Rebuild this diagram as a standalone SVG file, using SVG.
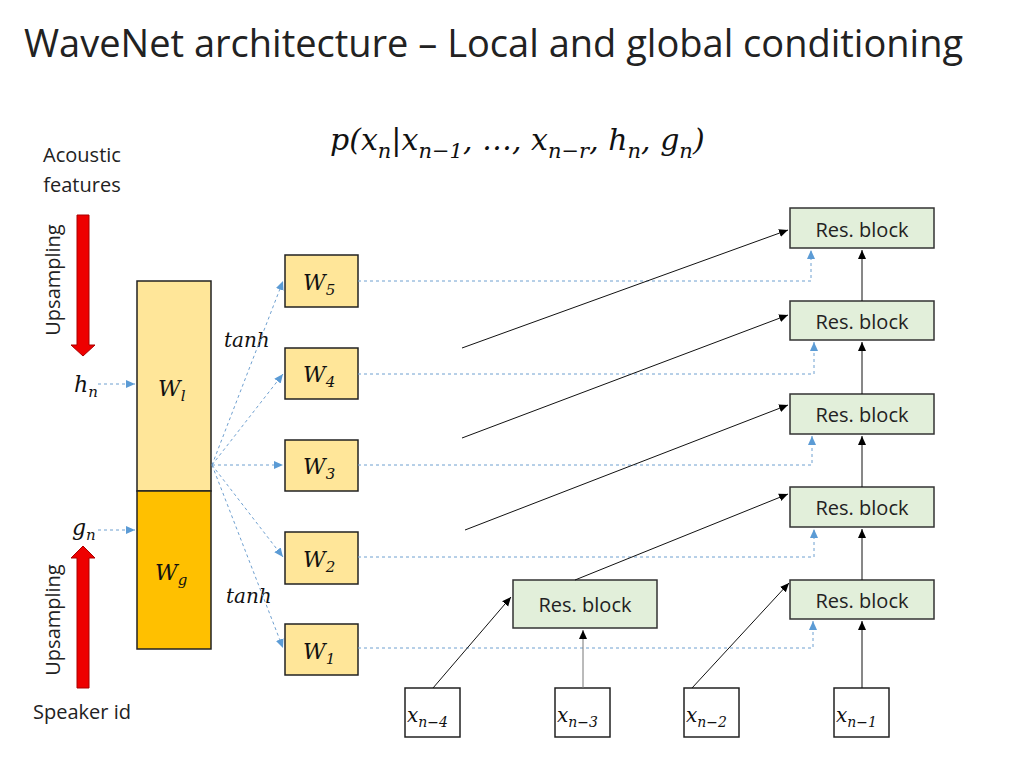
<svg xmlns="http://www.w3.org/2000/svg" width="1024" height="768" viewBox="0 0 1024 768">
<style>
.t{font-family:"Open Sans","Liberation Sans",sans-serif;fill:#222}
.m{font-family:"DejaVu Serif","Liberation Serif",serif;font-style:italic;fill:#111}
.w{fill:#ffe699;stroke:#222;stroke-width:1.5}
.r{fill:#e2efda;stroke:#333;stroke-width:1.5}
.x{fill:#fff;stroke:#222;stroke-width:1.5}
.d{stroke:#6fa0d0;stroke-width:1;stroke-dasharray:3,3;fill:none}
.k{stroke:#111;stroke-width:1;fill:none}
</style>
<defs>
<marker id="b" markerWidth="10" markerHeight="10" refX="9" refY="5" orient="auto" markerUnits="userSpaceOnUse"><path d="M0,1 L9,5 L0,9z" fill="#5b9bd5"/></marker>
<marker id="a" markerWidth="10" markerHeight="10" refX="9" refY="5" orient="auto" markerUnits="userSpaceOnUse"><path d="M0,1 L9,5 L0,9z" fill="#000"/></marker>
</defs>
<text class="t" x="24" y="57" font-size="38">WaveNet architecture – Local and global conditioning</text>
<text class="m" x="330" y="150" font-size="30">p(x<tspan font-size="21" dy="8">n</tspan><tspan dy="-8">|x</tspan><tspan font-size="21" dy="8">n−1</tspan><tspan dy="-8">, …, x</tspan><tspan font-size="21" dy="8">n−r</tspan><tspan dy="-8">, h</tspan><tspan font-size="21" dy="8">n</tspan><tspan dy="-8">, g</tspan><tspan font-size="21" dy="8">n</tspan><tspan dy="-8">)</tspan></text>
<text class="t" x="82" y="162" font-size="20" text-anchor="middle">Acoustic</text>
<text class="t" x="82" y="192" font-size="20" text-anchor="middle">features</text>
<text class="t" x="82" y="719" font-size="20" text-anchor="middle">Speaker id</text>
<text class="t" font-size="20" text-anchor="middle" transform="translate(60,280) rotate(-90)">Upsampling</text>
<text class="t" font-size="20" text-anchor="middle" transform="translate(60,620) rotate(-90)">Upsampling</text>
<path d="M77,215 H89 V345 H95 L83,356 L71,345 H77z" fill="#e00" stroke="#a00"/>
<path d="M77,688 H89 V558 H95 L83,546 L71,558 H77z" fill="#e00" stroke="#a00"/>
<text class="m" x="74" y="392" font-size="22">h<tspan font-size="15" dy="5">n</tspan></text>
<text class="m" x="72" y="535" font-size="22">g<tspan font-size="15" dy="5">n</tspan></text>
<g id="Wl"><rect class="w" x="137" y="281" width="74" height="210"/><text class="m" x="158" y="396" font-size="22">W<tspan font-size="15" dy="5">l</tspan></text></g>
<g id="Wg"><rect x="137" y="491" width="74" height="158" fill="#ffc000" stroke="#222" stroke-width="1.5"/><text class="m" x="155" y="580" font-size="22">W<tspan font-size="15" dy="5">g</tspan></text></g>
<text class="m" x="224" y="347" font-size="20">tanh</text>
<text class="m" x="226" y="603" font-size="20">tanh</text>
<g id="W5"><rect class="w" x="285" y="255" width="73" height="52"/><text class="m" x="303" y="290" font-size="22">W<tspan font-size="15" dy="5">5</tspan></text></g>
<g id="W4"><rect class="w" x="285" y="348" width="73" height="51"/><text class="m" x="303" y="382" font-size="22">W<tspan font-size="15" dy="5">4</tspan></text></g>
<g id="W3"><rect class="w" x="285" y="440" width="73" height="51"/><text class="m" x="303" y="474" font-size="22">W<tspan font-size="15" dy="5">3</tspan></text></g>
<g id="W2"><rect class="w" x="285" y="532" width="73" height="52"/><text class="m" x="303" y="567" font-size="22">W<tspan font-size="15" dy="5">2</tspan></text></g>
<g id="W1"><rect class="w" x="285" y="624" width="73" height="51"/><text class="m" x="303" y="659" font-size="22">W<tspan font-size="15" dy="5">1</tspan></text></g>
<g id="R5"><rect class="r" x="790" y="208" width="144" height="40"/><text class="t" x="862" y="237" font-size="20" text-anchor="middle">Res. block</text></g>
<g id="R4"><rect class="r" x="790" y="301" width="144" height="39"/><text class="t" x="862" y="329" font-size="20" text-anchor="middle">Res. block</text></g>
<g id="R3"><rect class="r" x="790" y="394" width="144" height="40"/><text class="t" x="862" y="422" font-size="20" text-anchor="middle">Res. block</text></g>
<g id="R2"><rect class="r" x="790" y="487" width="144" height="40"/><text class="t" x="862" y="515" font-size="20" text-anchor="middle">Res. block</text></g>
<g id="R1"><rect class="r" x="790" y="580" width="144" height="39"/><text class="t" x="862" y="608" font-size="20" text-anchor="middle">Res. block</text></g>
<g id="R0"><rect class="r" x="513" y="580" width="144" height="48"/><text class="t" x="585" y="612" font-size="20" text-anchor="middle">Res. block</text></g>
<g id="X4"><rect class="x" x="405" y="688" width="55" height="49"/><text class="m" x="407" y="722" font-size="20">x<tspan font-size="14" dy="5">n−4</tspan></text></g>
<g id="X3"><rect class="x" x="555" y="688" width="55" height="49"/><text class="m" x="557" y="722" font-size="20">x<tspan font-size="14" dy="5">n−3</tspan></text></g>
<g id="X2"><rect class="x" x="684" y="688" width="55" height="49"/><text class="m" x="686" y="722" font-size="20">x<tspan font-size="14" dy="5">n−2</tspan></text></g>
<g id="X1"><rect class="x" x="834" y="688" width="55" height="49"/><text class="m" x="836" y="722" font-size="20">x<tspan font-size="14" dy="5">n−1</tspan></text></g>
<g id="connectors">
<path class="d" d="M98,384 H135" marker-end="url(#b)"/>
<path class="d" d="M98,530 H135" marker-end="url(#b)"/>
<path class="d" d="M212,465 L283,281" marker-end="url(#b)"/>
<path class="d" d="M212,465 L283,374" marker-end="url(#b)"/>
<path class="d" d="M212,465 H283" marker-end="url(#b)"/>
<path class="d" d="M212,465 L283,557" marker-end="url(#b)"/>
<path class="d" d="M212,465 L283,648" marker-end="url(#b)"/>
<path class="d" d="M358,281 H811 V250" marker-end="url(#b)"/>
<path class="d" d="M358,374 H814 V342" marker-end="url(#b)"/>
<path class="d" d="M358,465 H812 V436" marker-end="url(#b)"/>
<path class="d" d="M358,557 H814 V529" marker-end="url(#b)"/>
<path class="d" d="M358,648 H813 V621" marker-end="url(#b)"/>
<path class="k" d="M462,348 L788,230" marker-end="url(#a)"/>
<path class="k" d="M462,438 L788,315" marker-end="url(#a)"/>
<path class="k" d="M465,530 L788,405" marker-end="url(#a)"/>
<path class="k" d="M575,580 L788,494" marker-end="url(#a)"/>
<path class="k" d="M862,301 V250" marker-end="url(#a)"/>
<path class="k" d="M862,394 V342" marker-end="url(#a)"/>
<path class="k" d="M862,487 V436" marker-end="url(#a)"/>
<path class="k" d="M862,580 V529" marker-end="url(#a)"/>
<path class="k" d="M862,688 V621" marker-end="url(#a)"/>
<path class="k" d="M433,688 L511,597" marker-end="url(#a)"/>
<path d="M583,688 V630" stroke="#777" fill="none" marker-end="url(#a)"/>
<path class="k" d="M692,688 L789,583" marker-end="url(#a)"/>
</g>
</svg>
